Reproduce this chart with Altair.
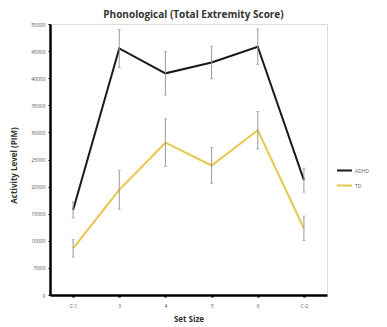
import altair as alt
import pandas as pd

categories = ["C-1", "3", "4", "5", "6", "C-2"]
groups = ["ADHD", "TD"]
adhd_mean = [15700, 45500, 40900, 42900, 45800, 21200]
adhd_err = [1500, 3500, 4000, 3000, 3300, 2200]
td_mean = [8600, 19400, 28100, 23900, 30400, 12300]
td_err = [1600, 3600, 4400, 3300, 3450, 2250]
y_ticks = list(range(0, 50001, 5000))

rows = []
for g, means, errs in [("ADHD", adhd_mean, adhd_err), ("TD", td_mean, td_err)]:
    for c, m, e in zip(categories, means, errs):
        rows.append({"set": c, "group": g, "mean": m, "lo": m - e, "hi": m + e})
df = pd.DataFrame(rows)

x_axis = alt.Axis(
    title="Set Size",
    labelAngle=0,
    labelFontSize=5,
    labelColor="#555555",
    labelPadding=6,
    titleFontSize=8,
    titleFontWeight="bold",
    titleColor="#333333",
    titlePadding=7,
    domainColor="black",
    domainWidth=2.5,
    tickColor="black",
    tickSize=2,
    tickWidth=2.5,
    grid=False,
)
y_axis = alt.Axis(
    title="Activity Level (PIM)",
    values=y_ticks,
    format="d",
    labelOverlap=False,
    labelFontSize=5,
    labelColor="#555555",
    labelPadding=3,
    titleFontSize=8,
    titleFontWeight="bold",
    titleColor="#333333",
    titleX=-32,
    titleY=141,
    domainColor="black",
    domainWidth=2.5,
    tickColor="black",
    tickSize=2,
    tickWidth=1,
    grid=False,
)
x_scale = alt.Scale(type="point", padding=0.5)
y_scale = alt.Scale(domain=[0, 50000], nice=False)


def xe():
    return alt.X("set:N", sort=categories, scale=x_scale, axis=x_axis)


line = alt.Chart(df).mark_line(strokeWidth=2).encode(
    x=xe(),
    y=alt.Y("mean:Q", scale=y_scale, axis=y_axis),
    color=alt.Color(
        "group:N",
        scale=alt.Scale(domain=groups, range=["#1a1a1a", "#E8C64E"]),
        legend=alt.Legend(
            title=None,
            orient="none",
            legendX=286,
            legendY=138,
            symbolType="stroke",
            symbolSize=225,
            symbolStrokeWidth=2,
            labelFontSize=5,
            labelColor="#666666",
            rowPadding=2,
            labelOffset=2,
        ),
    ),
)

bars = alt.Chart(df).mark_rule(color="#9a9a9a", strokeWidth=1).encode(
    x=xe(),
    y=alt.Y("lo:Q", scale=y_scale, axis=y_axis),
    y2="hi:Q",
)
caps_lo = alt.Chart(df).mark_tick(color="#9a9a9a", thickness=1, size=3).encode(
    x=xe(),
    y=alt.Y("lo:Q", scale=y_scale, axis=y_axis),
)
caps_hi = alt.Chart(df).mark_tick(color="#9a9a9a", thickness=1, size=3).encode(
    x=xe(),
    y=alt.Y("hi:Q", scale=y_scale, axis=y_axis),
)

chart = alt.layer(line, bars, caps_lo, caps_hi).properties(
    width=277,
    height=271,
    autosize=alt.AutoSizeParams(type="none"),
    padding={"left": 42, "top": 16, "right": 52, "bottom": 32},
    title=alt.TitleParams(
        "Phonological (Total Extremity Score)",
        fontSize=10,
        fontWeight="bold",
        color="#333333",
        anchor="middle",
        dx=5,
        offset=2,
    ),
).configure_view(stroke=None).configure(font="Open Sans")

chart.save("out.html", embed_options={"renderer": "svg", "actions": False})
